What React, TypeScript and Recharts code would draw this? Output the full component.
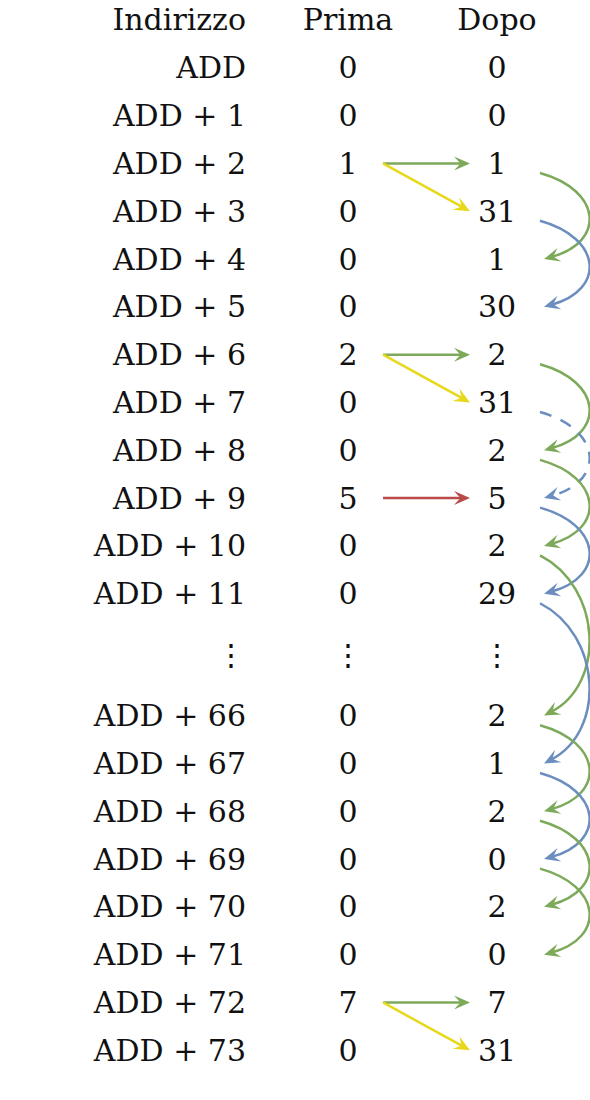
import React from 'react';
import { ScatterChart, Scatter, XAxis, YAxis, ReferenceLine } from 'recharts';

const addresses = ['ADD', 'ADD + 1', 'ADD + 2', 'ADD + 3', 'ADD + 4', 'ADD + 5', 'ADD + 6', 'ADD + 7', 'ADD + 8', 'ADD + 9', 'ADD + 10', 'ADD + 11', '⋮', 'ADD + 66', 'ADD + 67', 'ADD + 68', 'ADD + 69', 'ADD + 70', 'ADD + 71', 'ADD + 72', 'ADD + 73'];
const prima = ['0', '0', '1', '0', '0', '0', '2', '0', '0', '5', '0', '0', '⋮', '0', '0', '0', '0', '0', '0', '7', '0'];
const dopo = ['0', '0', '1', '31', '1', '30', '2', '31', '2', '5', '2', '29', '⋮', '2', '1', '2', '0', '2', '0', '7', '31'];
const rowPos = [1, 2, 3, 4, 5, 6, 7, 8, 9, 10, 11, 12, 13.27, 14.55, 15.55, 16.55, 17.55, 18.55, 19.55, 20.55, 21.55];
const headers = ['Indirizzo', 'Prima', 'Dopo'];

// arrows: [fromRow, toRow, colour]
const straightArrows: [number, number, string][] = [
  [2, 2, '#7caa5a'], [2, 3, '#e8d81a'],
  [6, 6, '#7caa5a'], [6, 7, '#e8d81a'],
  [9, 9, '#b94a48'],
  [19, 19, '#7caa5a'], [19, 20, '#e8d81a'],
];
const curvedArrows: [number, number, string, boolean][] = [
  [2, 4, '#7caa5a', false], [3, 5, '#6c8ebf', false],
  [6, 8, '#7caa5a', false], [7, 9, '#6c8ebf', true],
  [8, 10, '#7caa5a', false], [9, 11, '#6c8ebf', false],
  [10, 13, '#7caa5a', false], [11, 14, '#6c8ebf', false],
  [13, 15, '#7caa5a', false], [14, 16, '#6c8ebf', false],
  [15, 17, '#7caa5a', false], [16, 18, '#7caa5a', false],
];

const COL_ADDR = 246;
const COL_PRIMA = 348;
const COL_DOPO = 497;
const FONT = "'DejaVu Serif', serif";

const points = [
  ...headers.map((h, i) => ({ x: [COL_ADDR, COL_PRIMA, COL_DOPO][i], y: 0, t: h, anchor: i === 0 ? 'end' : 'middle' })),
  ...addresses.map((a, i) => ({ x: COL_ADDR, y: rowPos[i], t: a, anchor: 'end' })),
  ...prima.map((p, i) => ({ x: COL_PRIMA, y: rowPos[i], t: p, anchor: 'middle' })),
  ...dopo.map((d, i) => ({ x: COL_DOPO, y: rowPos[i], t: d, anchor: 'middle' })),
];

const TextShape = (props: any) => {
  const { cx, cy, payload } = props;
  return (
    <text x={cx} y={cy} textAnchor={payload.anchor} dominantBaseline="central" fontFamily={FONT} fontSize={30} fill="#111">
      {payload.t}
    </text>
  );
};

const head = (x: number, y: number, ang: number, color: string) => {
  const l = 16, w = 7;
  const c = Math.cos(ang), s = Math.sin(ang);
  const bx = x - l * c, by = y - l * s;
  return <path d={`M${x},${y} L${bx - w * s},${by + w * c} L${x - l * 0.6 * c},${y - l * 0.6 * s} L${bx + w * s},${by - w * c} Z`} fill={color} />;
};

const StraightShape = (color: string) => (props: any) => {
  const { x1, y1, x2, y2 } = props;
  const ang = Math.atan2(y2 - y1, x2 - x1);
  return (
    <g>
      <line x1={x1} y1={y1} x2={x2 - 8 * Math.cos(ang)} y2={y2 - 8 * Math.sin(ang)} stroke={color} strokeWidth={2.5} />
      {head(x2, y2, ang, color)}
    </g>
  );
};

const CurveShape = (color: string, dashed: boolean) => (props: any) => {
  const { x1, y1, x2, y2 } = props;
  const d = y2 - y1;
  const c1x = x1 + 62, c1y = y1 + d * 0.2;
  const c2x = x2 + 62, c2y = y2 - d * 0.2;
  const ang = Math.atan2(y2 - c2y, x2 - c2x);
  return (
    <g>
      <path d={`M${x1},${y1} C${c1x},${c1y} ${c2x},${c2y} ${x2 + 8 * Math.cos(ang + Math.PI)},${y2 + 8 * Math.sin(ang + Math.PI)}`}
        fill="none" stroke={color} strokeWidth={2.5} strokeDasharray={dashed ? '12 10' : undefined} />
      {head(x2, y2, ang, color)}
    </g>
  );
};

export default function App() {
  return (
    <div style={{ position: 'absolute', left: 0, top: 0, background: '#fff' }}>
      <ScatterChart width={590} height={1100} margin={{ top: 0, right: 0, bottom: 0, left: 0 }}>
        <XAxis type="number" dataKey="x" domain={[0, 590]} hide />
        <YAxis type="number" dataKey="y" domain={[-0.418, 22.59]} reversed hide />
        <Scatter data={points} shape={TextShape} isAnimationActive={false} />
        {straightArrows.map(([f, t, c], i) => (
          <ReferenceLine key={'s' + i} ifOverflow="visible"
            segment={[{ x: 383, y: rowPos[f] }, { x: 470, y: rowPos[t] }]}
            shape={StraightShape(c)} />
        ))}
        {curvedArrows.map(([f, t, c, dash], i) => (
          <ReferenceLine key={'c' + i} ifOverflow="visible"
            segment={[{ x: 540, y: rowPos[f] + 0.2 }, { x: 544, y: rowPos[t] }]}
            shape={CurveShape(c, dash)} />
        ))}
      </ScatterChart>
    </div>
  );
}
